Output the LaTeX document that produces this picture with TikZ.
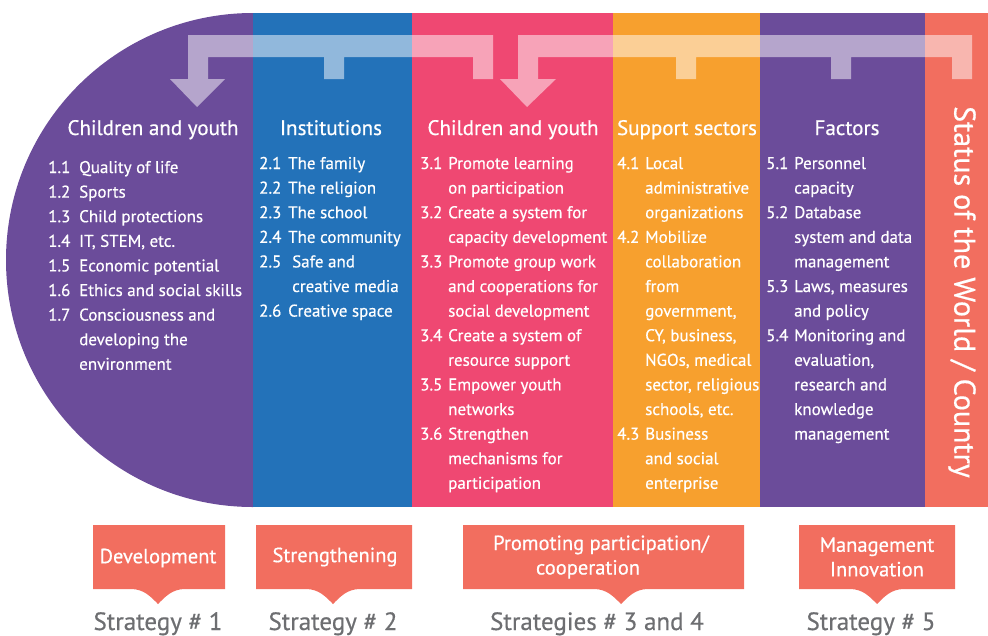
\documentclass[tikz,border=0pt]{standalone}
\usepackage{fontspec}
\setmainfont{PT Sans}[BoldFont={PT Sans},BoldFeatures={FakeBold=0.5}]
\definecolor{cpurple}{HTML}{6B4C9A}
\definecolor{cblue}{HTML}{2372B9}
\definecolor{cpink}{HTML}{EF4872}
\definecolor{corange}{HTML}{F7A02E}
\definecolor{csalmon}{HTML}{F26E5F}
\definecolor{cgray}{HTML}{6D6E71}
\newcommand\mycallout[3]{%
  \fill[csalmon] (#1,525) -- (#2,525) -- (#2,589) -- ({#3+27},589)
    .. controls ({#3+14},589) and ({#3+7},597) .. (#3,604)
    .. controls ({#3-7},597) and ({#3-14},589) .. ({#3-27},589)
    -- (#1,589) -- cycle;}
\begin{document}
\begin{tikzpicture}[x=1pt,y=-1pt,
  hdr/.style={text=white,font=\bfseries\fontsize{21}{24}\selectfont,anchor=base,inner sep=0},
  lst/.style={text=white,anchor=base west,inner sep=0,font=\bfseries\fontsize{17}{24.6}\selectfont},
  cal/.style={text=white,font=\bfseries\fontsize{20.5}{24.5}\selectfont,align=center,inner sep=0},
  strat/.style={text=cgray,font=\bfseries\fontsize{25}{26}\selectfont,anchor=base,inner sep=0},
  bracket/.style={fill=white,fill opacity=0.5}]
\useasboundingbox (0,0) rectangle (988,635);
% columns
\begin{scope}
  \clip (0,0) rectangle (253,635);
  \fill[cpurple] (253,260) circle[radius=247pt];
\end{scope}
\fill[cblue] (253,13) rectangle (412,507);
\fill[cpink] (412,13) rectangle (613,507);
\fill[corange] (613,13) rectangle (760,507);
\fill[cpurple] (760,13) rectangle (925,507);
\fill[csalmon] (925,13) rectangle (988,507);
% brackets
\fill[bracket] (188,35) -- (493,35) -- (493,79) -- (473,79) -- (473,57) -- (344,57) -- (344,79) -- (324,79) -- (324,57) -- (208,57) -- (208,79) -- (225,79) -- (197,107) -- (170,79) -- (188,79) -- cycle;
\fill[bracket] (518,35) -- (972,35) -- (972,79) -- (952,79) -- (952,57) -- (851,57) -- (851,79) -- (831,79) -- (831,57) -- (696,57) -- (696,79) -- (676,79) -- (676,57) -- (538,57) -- (538,79) -- (556,79) -- (527,107) -- (500,79) -- (518,79) -- cycle;
% headers
\node[hdr] (h1) at (153,135) {Children and youth};
\node[hdr] (h2) at (331,135) {Institutions};
\node[hdr] (h3) at (513,135) {Children and youth};
\node[hdr] (h4) at (687,135) {Support sectors};
\node[hdr] (h5) at (847,135) {Factors};
% lists
\node[lst] (l1) at (48,173) {\begin{tabular}[t]{@{}p{31pt}@{}l@{}}
1.1 & Quality of life\\
1.2 & Sports\\
1.3 & Child protections\\
1.4 & IT, STEM, etc.\\
1.5 & Economic potential\\
1.6 & Ethics and social skills\\
1.7 & Consciousness and\\
 & developing the\\
 & environment
\end{tabular}};
\node[lst] (l2) at (259,169) {\begin{tabular}[t]{@{}p{29pt}@{}l@{}}
2.1 & The family\\
2.2 & The religion\\
2.3 & The school\\
2.4 & The community\\
2.5 & \hspace{4pt}Safe and\\
 & \hspace{4pt}creative media\\
2.6 & Creative space
\end{tabular}};
\node[lst] (l3) at (420,169) {\begin{tabular}[t]{@{}p{28pt}@{}l@{}}
3.1 & Promote learning\\
 & on participation\\
3.2 & Create a system for\\
 & capacity development\\
3.3 & Promote group work\\
 & and cooperations for\\
 & social development\\
3.4 & Create a system of\\
 & resource support\\
3.5 & Empower youth\\
 & networks\\
3.6 & Strengthen\\
 & mechanisms for\\
 & participation
\end{tabular}};
\node[lst] (l4) at (617,169) {\begin{tabular}[t]{@{}p{28pt}@{}l@{}}
4.1 & Local\\
 & administrative\\
 & organizations\\
4.2 & Mobilize\\
 & collaboration\\
 & from\\
 & government,\\
 & CY, business,\\
 & NGOs, medical\\
 & sector, religious\\
 & schools, etc.\\
4.3 & Business\\
 & and social\\
 & enterprise
\end{tabular}};
\node[lst] (l5) at (766,169) {\begin{tabular}[t]{@{}p{28pt}@{}l@{}}
5.1 & Personnel\\
 & capacity\\
5.2 & Database\\
 & system and data\\
 & management\\
5.3 & Laws, measures\\
 & and policy\\
5.4 & Monitoring and\\
 & evaluation,\\
 & research and\\
 & knowledge\\
 & management
\end{tabular}};
\node[text=white,font=\bfseries\fontsize{30}{32}\selectfont,rotate=-90,inner sep=0] (vt) at (962,292) {Status of the World / Country};
% callouts
\mycallout{93}{225}{158}
\mycallout{256}{412}{333}
\mycallout{463}{744}{621}
\mycallout{799}{955}{877}
\node[cal] (c1) at (158,558) {Development};
\node[cal] (c2) at (335,557) {Strengthening};
\node[cal] (c3) at (601,557) {Promoting participation/\\\hspace*{-26pt}cooperation};
\node[cal] (c4) at (877,557) {Management\\Innovation};
% strategy labels
\node[strat] (s1) at (158,630) {Strategy \# 1};
\node[strat] (s2) at (333,630) {Strategy \# 2};
\node[strat] (s3) at (597,630) {Strategies \# 3 and 4};
\node[strat] (s4) at (871,630) {Strategy \# 5};
\end{tikzpicture}
\end{document}
